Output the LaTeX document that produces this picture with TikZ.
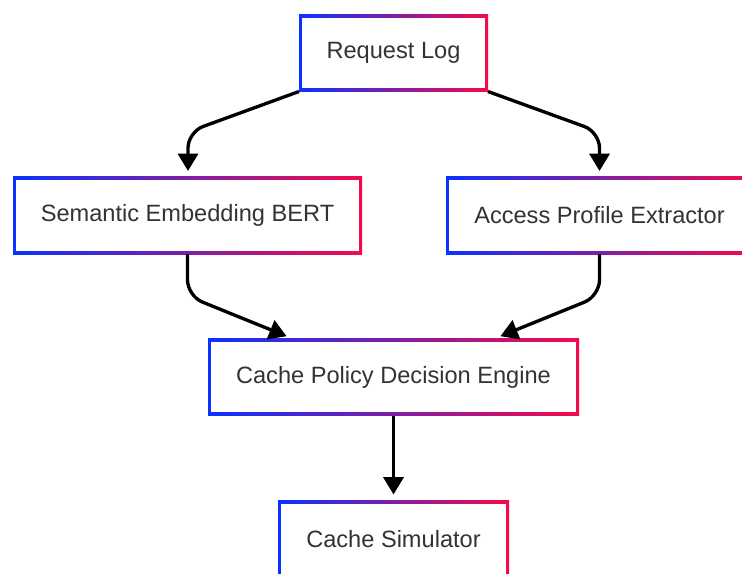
\documentclass[tikz,border=0pt]{standalone}
\usepackage{fontspec}
\setmainfont{Liberation Sans}
\usepackage{xcolor}
\usepackage{tikz}
\usetikzlibrary{arrows.meta, positioning, calc}
\definecolor{edgeblue}{RGB}{10,50,255}
\definecolor{edgered}{RGB}{245,10,75}
\definecolor{textgray}{RGB}{51,51,51}
\tikzset{
  gradbox/.style={
    rectangle, minimum height=57.75pt, outer sep=0pt, inner sep=0pt,
    text centered, text=textgray, font=\fontsize{17.7pt}{21pt}\selectfont,
    path picture={
      \shade[left color=edgeblue, right color=edgered]
        (path picture bounding box.south west) rectangle
        (path picture bounding box.north east);
      \fill[white]
        ([shift={(2.3pt,2.3pt)}]path picture bounding box.south west) rectangle
        ([shift={(-2.3pt,-2.3pt)}]path picture bounding box.north east);
    }
  },
  flow/.style={-{Triangle[length=13pt, width=15pt]}, line width=2.5pt,
    black, rounded corners=12pt, shorten >=4.5pt}
}

\begin{document}
\begin{tikzpicture}[x=0.75pt, y=-0.75pt]
  \useasboundingbox (0,0) rectangle (742,574);

  % Boxes
  \node[gradbox, minimum width=141.75pt] (log)    at (393.5, 53)  {Request Log};
  \node[gradbox, minimum width=261.75pt] (bert)   at (187.5, 215.5) {Semantic Embedding BERT};
  \node[gradbox, minimum width=230.25pt] (access) at (599.5, 215.5) {Access Profile Extractor};
  \node[gradbox, minimum width=278.25pt] (engine) at (393.5, 377) {Cache Policy Decision Engine};
  \node[gradbox, minimum width=173.25pt] (sim)    at (393.5, 539) {Cache Simulator};

  % Connectors
  \draw[flow] (log.south west) -- (188,132) -- (bert.north -| 188,0);
  \draw[flow] (log.south east) -- (599.5,132) -- (access.north);
  \draw[flow] (bert.south) -- (187.5,296) -- ([xshift=-76pt]engine.north);
  \draw[flow] (access.south) -- (599.5,296) -- ([xshift=76pt]engine.north);
  \draw[flow] (engine.south) -- (sim.north);
\end{tikzpicture}
\end{document}
